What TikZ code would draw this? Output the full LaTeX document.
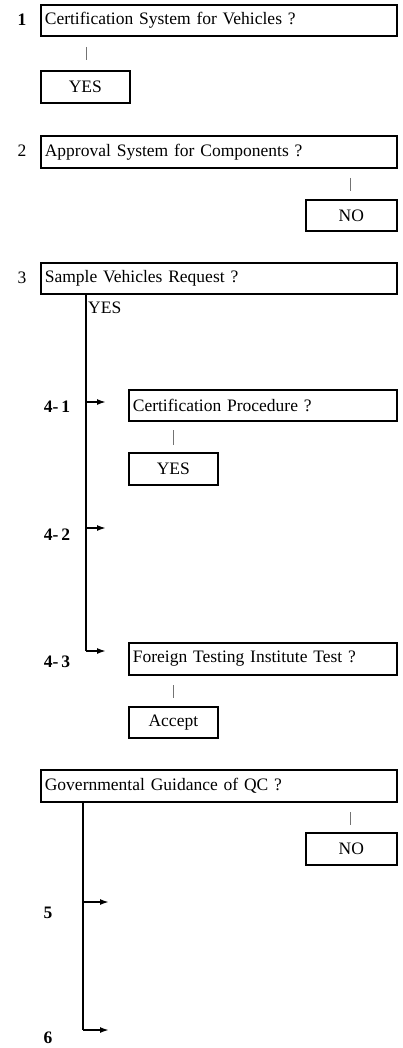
\documentclass[tikz,border=0pt]{standalone}
\usepackage{fontspec}
\setmainfont{Liberation Serif}
\usetikzlibrary{arrows.meta}
\begin{document}
\begin{tikzpicture}[x=1pt,y=-1pt,
  font=\fontsize{17.5}{20}\selectfont,
  qbox/.style={draw, line width=1.7pt, anchor=north west, inner xsep=4pt, inner ysep=0pt,
               align=left, minimum height=#1},
  qbox/.default=31pt,
  abox/.style={draw, line width=1.7pt, anchor=north west, inner sep=0pt,
               minimum width=89pt, minimum height=#1},
  abox/.default=32pt,
  num/.style={inner sep=0pt, font=\fontsize{17.5}{20}\selectfont\bfseries},
  numr/.style={inner sep=0pt},
  tick/.style={draw=black!55, line width=0.8pt},
  trunk/.style={line width=1.7pt},
  branch/.style={line width=1.7pt, -{Latex[length=9pt,width=6pt]}}
]
\path[use as bounding box] (0,0) rectangle (402,1048);

% question 1
\node[qbox, text width=348pt] (q1) at (40,4) {Certification System for Vehicles ?};
\node[num] (l1) at (22,20) {1};
\node[abox] (y1) at (40,70) {YES};
\coordinate (t1a) at (86,47); \coordinate (t1b) at (86,60);
\draw[tick] (t1a) -- (t1b);

% question 2
\node[qbox=32pt, text width=348pt] (q2) at (40,135) {Approval System for Components ?};
\node[numr] (l2) at (22,151) {2};
\node[abox=31pt, minimum width=91pt] (n2) at (305,199) {NO};
\coordinate (t2a) at (350,178); \coordinate (t2b) at (350,191);
\draw[tick] (t2a) -- (t2b);

% question 3 with its branches
\node[qbox, text width=348pt] (q3) at (40,262) {Sample Vehicles Request ?};
\node[numr] (l3) at (22,278) {3};
\node[inner sep=0pt, anchor=west] (yes3) at (88,308) {YES};
\coordinate (s3) at (86,293);
\coordinate (b41) at (86,402); \coordinate (e41) at (106,402);
\coordinate (b42) at (86,528); \coordinate (e42) at (106,528);
\coordinate (b43) at (86,651); \coordinate (e43) at (106,651);
\draw[trunk] (s3) -- (b43);
\draw[branch] (b43) -- (e43);
\draw[branch] (b41) -- (e41);
\draw[branch] (b42) -- (e42);

% 4-1
\node[num] (l41) at (57,407) {4-\,1};
\node[qbox, text width=260pt] (q41) at (128,389) {Certification Procedure ?};
\node[abox] (y41) at (128,452) {YES};
\coordinate (t41a) at (173,430); \coordinate (t41b) at (173,445);
\draw[tick] (t41a) -- (t41b);

% 4-2
\node[num] (l42) at (57,535) {4-\,2};

% 4-3
\node[num] (l43) at (57,662) {4-\,3};
\node[qbox=32pt, text width=260pt] (q43) at (128,642) {Foreign Testing Institute Test ?};
\node[abox=31pt] (a43) at (128,706) {Accept};
\coordinate (t43a) at (173,685); \coordinate (t43b) at (173,698);
\draw[tick] (t43a) -- (t43b);

% quality control guidance
\node[qbox=32pt, text width=348pt] (q5) at (40,769) {Governmental Guidance of QC ?};
\node[abox, minimum width=91pt] (n5) at (305,832) {NO};
\coordinate (t5a) at (350,812); \coordinate (t5b) at (350,825);
\draw[tick] (t5a) -- (t5b);
\coordinate (s5) at (83,801);
\coordinate (b5) at (83,902); \coordinate (e5) at (109,902);
\coordinate (b6) at (83,1030); \coordinate (e6) at (109,1030);
\draw[trunk] (s5) -- (b6);
\draw[branch] (b6) -- (e6);
\draw[branch] (b5) -- (e5);
\node[num] (l5) at (48,913) {5};
\node[num] (l6) at (48,1038) {6};
\end{tikzpicture}
\end{document}
